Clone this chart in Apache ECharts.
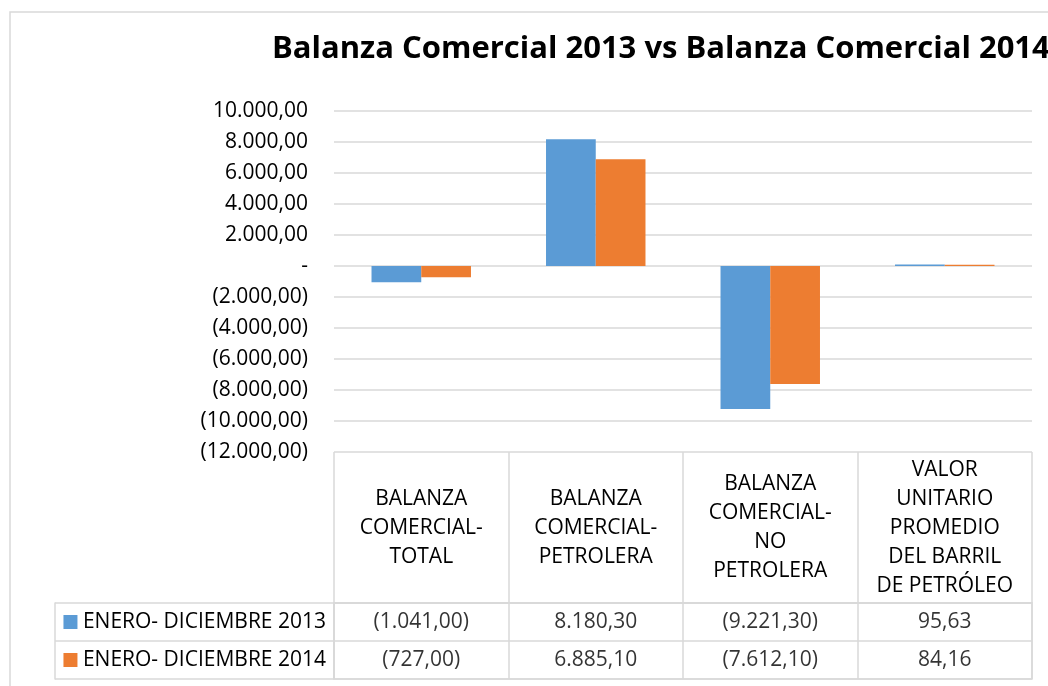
<!DOCTYPE html>
<html>
<head>
<meta charset="utf-8">
<script src="https://cdn.jsdelivr.net/npm/echarts@6/dist/echarts.min.js"></script>
<style>
  html, body { margin: 0; padding: 0; background: #fff; }
  #chart { width: 1048px; height: 686px; }
</style>
</head>
<body>
<div id="chart"></div>
<script>
// chart data
const categories = [
  'BALANZA\nCOMERCIAL-\nTOTAL',
  'BALANZA\nCOMERCIAL-\nPETROLERA',
  'BALANZA\nCOMERCIAL-\nNO\nPETROLERA',
  'VALOR\nUNITARIO\nPROMEDIO\nDEL BARRIL\nDE PETRÓLEO'
];
const seriesNames = ['ENERO- DICIEMBRE 2013', 'ENERO- DICIEMBRE 2014'];
const values2013 = [-1041.00, 8180.30, -9221.30, 95.63];
const values2014 = [-727.00, 6885.10, -7612.10, 84.16];
const yMin = -12000;
const yMax = 10000;
const yStep = 2000;

const colors = ['#5B9BD5', '#ED7D31'];
const gridGray = '#d9d9d9';
const font = '"Open Sans", "Liberation Sans", sans-serif';

// 1234.5 -> 1.234,50 ; negatives in parentheses ; zero as "-"
function fmt(v) {
  if (v === 0) return '-';
  const parts = Math.abs(v).toFixed(2).split('.');
  const s = parts[0].replace(/\B(?=(\d{3})+(?!\d))/g, '.') + ',' + parts[1];
  return v < 0 ? '(' + s + ')' : s;
}

const tableCells = values2013.map((v, i) => [i, 0, v])
  .concat(values2014.map((v, i) => [i, 1, v]));

const chart = echarts.init(document.getElementById('chart'));

const option = {
  animation: false,
  textStyle: { fontFamily: font },
  title: {
    text: 'Balanza Comercial 2013 vs Balanza Comercial 2014',
    left: 267,
    top: 29,
    textStyle: { fontFamily: font, fontSize: 31, fontWeight: 'bold', color: '#000' }
  },
  graphic: [{
    type: 'rect',
    shape: { x: 10, y: 12, width: 1100, height: 700 },
    style: { fill: 'none', stroke: gridGray, lineWidth: 1.5 },
    silent: true
  }],
  grid: [
    { left: 334, right: 16, top: 111, height: 341 },
    { left: 334, right: 16, top: 603, height: 76, show: true, borderColor: gridGray, borderWidth: 1.5 }
  ],
  xAxis: [
    {
      type: 'category', gridIndex: 0, data: categories,
      axisLine: { show: false }, axisTick: { show: false }, axisLabel: { show: false }
    },
    {
      type: 'category', gridIndex: 1, data: categories, position: 'top',
      axisLine: { show: true, lineStyle: { color: gridGray, width: 1.5 } },
      axisTick: { show: true, length: 151, interval: 0, lineStyle: { color: gridGray, width: 1.5 } },
      splitLine: { show: true, interval: 0, lineStyle: { color: gridGray, width: 1.5 } },
      axisLabel: {
        interval: 0, margin: 75, verticalAlign: 'middle',
        fontSize: 21, lineHeight: 29, color: '#000', fontFamily: font
      }
    }
  ],
  yAxis: [
    {
      type: 'value', gridIndex: 0, min: yMin, max: yMax, interval: yStep,
      axisLine: { show: false }, axisTick: { show: false },
      splitLine: { lineStyle: { color: gridGray, width: 1.5 } },
      axisLabel: {
        margin: 26, fontSize: 21, color: '#000', fontFamily: font,
        formatter: v => fmt(v)
      }
    },
    {
      type: 'category', gridIndex: 1, data: seriesNames, inverse: true,
      axisLine: { show: true, lineStyle: { color: gridGray, width: 1.5 } },
      axisTick: { show: true, length: 279, interval: 0, lineStyle: { color: gridGray, width: 1.5 } },
      splitLine: { show: true, interval: 0, lineStyle: { color: gridGray, width: 1.5 } },
      axisLabel: {
        margin: 8, fontSize: 21, color: '#000', fontFamily: font,
        formatter: (v, i) => '{s' + i + '|} ' + v,
        rich: {
          s0: { width: 14, height: 14, backgroundColor: colors[0] },
          s1: { width: 14, height: 14, backgroundColor: colors[1] }
        }
      }
    },
    {
      type: 'category', gridIndex: 1, data: seriesNames, inverse: true,
      position: 'left', offset: 279,
      axisLine: { show: true, lineStyle: { color: gridGray, width: 1.5 } },
      axisTick: { show: false }, axisLabel: { show: false }
    }
  ],
  series: [
    {
      name: seriesNames[0], type: 'bar', data: values2013,
      xAxisIndex: 0, yAxisIndex: 0,
      itemStyle: { color: colors[0] },
      barGap: '0%', barCategoryGap: '43%'
    },
    {
      name: seriesNames[1], type: 'bar', data: values2014,
      xAxisIndex: 0, yAxisIndex: 0,
      itemStyle: { color: colors[1] },
      barGap: '0%', barCategoryGap: '43%'
    },
    {
      type: 'scatter', data: tableCells,
      xAxisIndex: 1, yAxisIndex: 1,
      symbolSize: 1, itemStyle: { color: 'transparent' },
      label: {
        show: true, position: 'inside', fontSize: 21, color: '#000', fontFamily: font,
        formatter: p => fmt(p.value[2])
      }
    }
  ]
};

chart.setOption(option);
</script>
</body>
</html>
